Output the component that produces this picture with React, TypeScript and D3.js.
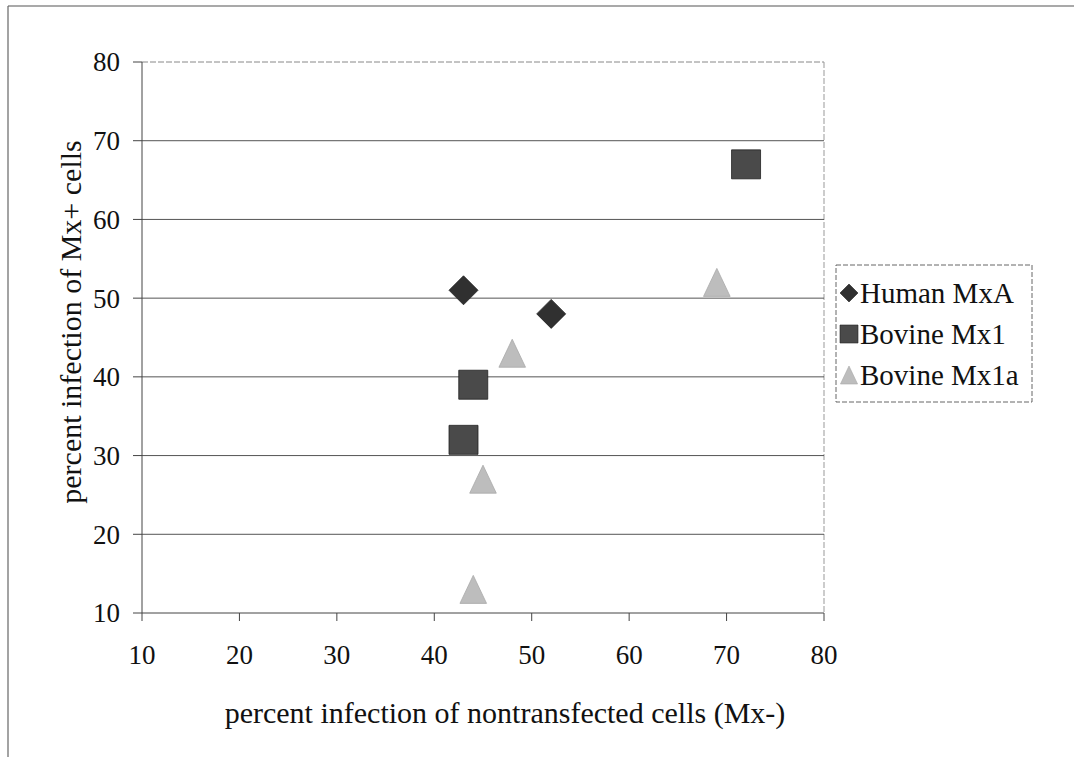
import React from 'react';
import * as d3 from 'd3';

// series values: [x, y]
const seriesNames = ['Human MxA', 'Bovine Mx1', 'Bovine Mx1a'];
const humanMxA = [[43, 51], [52, 48]];
const bovineMx1 = [[44, 39], [43, 32], [72, 67]];
const bovineMx1a = [[48, 43], [45, 27], [44, 13], [69, 52]];

const xTicks = [10, 20, 30, 40, 50, 60, 70, 80];
const yTicks = [10, 20, 30, 40, 50, 60, 70, 80];

const xTitle = 'percent infection of nontransfected cells (Mx-)';
const yTitle = 'percent infection of Mx+ cells';

const W = 1074;
const H = 757;
const plot = { left: 142, right: 824, top: 62, bottom: 613 };
const font = "'Liberation Serif', 'Times New Roman', Times, serif";

const styles = [
  { shape: 'diamond', fill: '#303030', stroke: '#222' },
  { shape: 'square', fill: '#4a4a4a', stroke: '#222' },
  { shape: 'triangle', fill: '#bdbdbd', stroke: '#a8a8a8' },
];

const markerPath = (shape: string, s: number) => {
  const h = s / 2;
  if (shape === 'diamond') return `M0,${-h}L${h},0L0,${h}L${-h},0Z`;
  if (shape === 'square') return `M${-h},${-h}H${h}V${h}H${-h}Z`;
  return `M0,${-h}L${h * 0.95},${h}L${-h * 0.95},${h}Z`;
};

export default function App() {
  const x = d3.scaleLinear().domain([10, 80]).range([plot.left, plot.right]);
  const y = d3.scaleLinear().domain([10, 80]).range([plot.bottom, plot.top]);
  const allSeries = [humanMxA, bovineMx1, bovineMx1a];

  const legend = { x: 836, y: 265, w: 196, h: 137 };
  const txt = { fontFamily: font, fill: '#111' };

  return (
    <svg width={W} height={H} style={{ position: 'absolute', left: 0, top: 0, background: '#fff', fontFamily: font }}>
      {/* outer frame */}
      <line x1={8} y1={6} x2={W} y2={6} stroke="#555" strokeWidth={1.2} />
      <line x1={8} y1={6} x2={8} y2={H} stroke="#666" strokeWidth={1.2} />

      {/* plot area border (top / right) */}
      <line x1={plot.left} y1={plot.top} x2={plot.right} y2={plot.top} stroke="#888" strokeDasharray="6 2" />
      <line x1={plot.right} y1={plot.top} x2={plot.right} y2={plot.bottom} stroke="#999" strokeDasharray="6 2" />

      {/* gridlines */}
      {yTicks.filter(t => t > 10 && t < 80).map(t => (
        <line key={t} x1={plot.left} x2={plot.right} y1={y(t)} y2={y(t)} stroke="#555" strokeWidth={1} />
      ))}

      {/* axes */}
      <line x1={plot.left} y1={plot.top} x2={plot.left} y2={plot.bottom} stroke="#444" />
      <line x1={plot.left} y1={plot.bottom} x2={plot.right} y2={plot.bottom} stroke="#444" />
      {yTicks.map(t => (
        <g key={t}>
          <line x1={plot.left - 9} x2={plot.left} y1={y(t)} y2={y(t)} stroke="#444" />
          <text x={plot.left - 22} y={y(t)} dy="0.35em" textAnchor="end" fontSize={27} style={txt}>{t}</text>
        </g>
      ))}
      {xTicks.map(t => (
        <g key={t}>
          <line x1={x(t)} x2={x(t)} y1={plot.bottom} y2={plot.bottom + 8} stroke="#444" />
          <text x={x(t)} y={plot.bottom + 42} dy="0.35em" textAnchor="middle" fontSize={27} style={txt}>{t}</text>
        </g>
      ))}

      {/* axis titles */}
      <text x={505} y={712} dy="0.35em" textAnchor="middle" fontSize={30} style={txt}>{xTitle}</text>
      <text transform={`translate(70,${322}) rotate(-90)`} dy="0.35em" textAnchor="middle" fontSize={30} style={txt}>{yTitle}</text>

      {/* points */}
      {allSeries.map((pts, i) => pts.map((d, j) => (
        <path key={`${i}-${j}`} d={markerPath(styles[i].shape, i === 2 ? 28 : 29)}
          transform={`translate(${x(d[0])},${y(d[1])})`} fill={styles[i].fill} stroke={styles[i].stroke} strokeWidth={0.8} />
      )))}

      {/* legend */}
      <rect x={legend.x} y={legend.y} width={legend.w} height={legend.h} fill="#fff" stroke="#666" strokeDasharray="5 2" />
      {seriesNames.map((name, i) => {
        const cy = legend.y + 28 + i * 41;
        return (
          <g key={name}>
            <path d={markerPath(styles[i].shape, 18)} transform={`translate(${legend.x + 13},${cy})`} fill={styles[i].fill} stroke={styles[i].stroke} strokeWidth={0.6} />
            <text x={legend.x + 24} y={cy} dy="0.35em" fontSize={29} style={txt}>{name}</text>
          </g>
        );
      })}
    </svg>
  );
}
